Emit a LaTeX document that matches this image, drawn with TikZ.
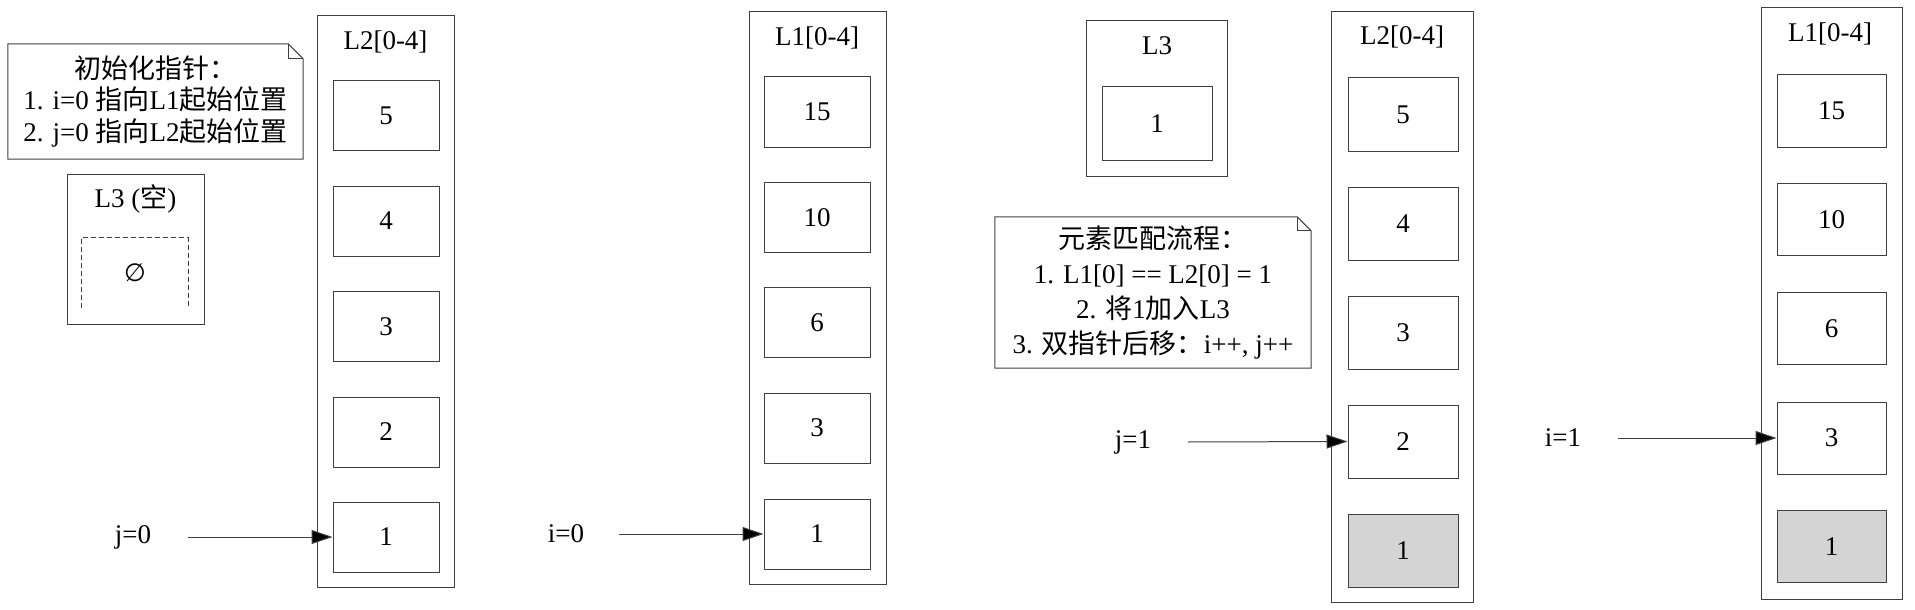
\documentclass[tikz,border=0pt]{standalone}
\usepackage{fontspec}
\setmainfont{Liberation Serif}
\newfontfamily\cjk{Noto Sans CJK SC}
\newfontfamily\dvs{DejaVu Sans}
\usetikzlibrary{arrows.meta}
\begin{document}
\begin{tikzpicture}[x=1pt,y=-1pt,
  every node/.style={font=\fontsize{27}{31}\selectfont, inner sep=0pt},
  edge/.style={draw=black!75, line width=1pt},
  cell/.style n args={2}{edge, rectangle, minimum width=#1, minimum height=#2},
  grey cell/.style={fill=black!17},
  cluster/.style n args={2}{edge, rectangle, minimum width=#1, minimum height=#2},
  lbl/.style={minimum width=110pt, minimum height=30pt},
  ptr/.style={edge, -{Triangle[length=21pt,width=14pt,fill=black]}},
  notetext/.style={align=center, minimum width=#1},
]
\useasboundingbox (0,0) rectangle (1915,610);

% ---------- left: initial state ----------
% note 1
\node[notetext=295pt, minimum height=115pt, font=\fontsize{27}{31.7}\selectfont] (n1) at (155.5,101.5)
  {{\cjk 初始化指针：}\\1. i=0 {\cjk 指向}L1{\cjk 起始位置}\\2. j=0 {\cjk 指向}L2{\cjk 起始位置}};
\draw[edge] (n1.south west) -- (n1.north west) -- ([xshift=-15pt]n1.north east)
  -- ([yshift=-15pt]n1.north east) -- (n1.south east) -- cycle;
\draw[edge] ([xshift=-15pt]n1.north east) -- ([xshift=-15pt,yshift=-15pt]n1.north east)
  -- ([yshift=-15pt]n1.north east);

% L3 empty
\node[cluster={137pt}{150pt}] (L3a) at (135.5,249) {};
\node (L3at) at (135.5,199) {L3 ({\cjk 空})};
\node[minimum width=106pt, minimum height=70pt] (L3ae) at (135,273) {\dvs\fontsize{25}{28}\selectfont ∅};
\draw[edge, line width=0.9pt, dash pattern=on 5pt off 3pt] (L3ae.south west) -- (L3ae.north west)
  -- (L3ae.north east) -- (L3ae.south east);

% L2 left
\node[cluster={137pt}{571pt}] (L2a) at (385.5,301.5) {};
\node (L2at) at (385.5,42) {L2[0-4]};
\node[cell={106pt}{70pt}] (L2a5) at (386,115.5) {5};
\node[cell={106pt}{70pt}] (L2a4) at (386,221) {4};
\node[cell={106pt}{70pt}] (L2a3) at (386,326.5) {3};
\node[cell={106pt}{70pt}] (L2a2) at (386,432) {2};
\node[cell={106pt}{70pt}] (L2a1) at (386,537) {1};
\node[lbl] (j0) at (133,537) {j=0};
\draw[ptr] (j0.east) -- (L2a1.west);

% L1 left
\node[cluster={137pt}{572pt}] (L1a) at (817.5,298) {};
\node (L1at) at (817,38) {L1[0-4]};
\node[cell={106pt}{70pt}] (L1a15) at (817,112) {15};
\node[cell={106pt}{70pt}] (L1a10) at (817,217.5) {10};
\node[cell={106pt}{70pt}] (L1a6) at (817,322.5) {6};
\node[cell={106pt}{70pt}] (L1a3) at (817,428) {3};
\node[cell={106pt}{70pt}] (L1a1) at (817,534) {1};
\node[lbl] (i0) at (566,534) {i=0};
\draw[ptr] ([xshift=-2pt]i0.east) -- (L1a1.west);

% ---------- right: after first match ----------
% L3 with 1
\node[cluster={141pt}{155pt}] (L3b) at (1156.5,98.5) {};
\node (L3bt) at (1157,46) {L3};
\node[cell={110pt}{73pt}] (L3b1) at (1157,123.5) {1};

% note 2
\node[notetext=316pt, minimum height=151pt, font=\fontsize{27}{35}\selectfont] (n2) at (1153,292.5)
  {{\cjk 元素匹配流程：}\\1. L1[0] == L2[0] = 1\\2. {\cjk 将}1{\cjk 加入}L3\\3. {\cjk 双指针后移：}i++, j++};
\draw[edge] (n2.south west) -- (n2.north west) -- ([xshift=-14pt]n2.north east)
  -- ([yshift=-14pt]n2.north east) -- (n2.south east) -- cycle;
\draw[edge] ([xshift=-14pt]n2.north east) -- ([xshift=-14pt,yshift=-14pt]n2.north east)
  -- ([yshift=-14pt]n2.north east);

% L2 right
\node[cluster={142pt}{590pt}] (L2b) at (1402,307) {};
\node (L2bt) at (1402,37) {L2[0-4]};
\node[cell={110pt}{73pt}] (L2b5) at (1403,114.5) {5};
\node[cell={110pt}{73pt}] (L2b4) at (1403,223.5) {4};
\node[cell={110pt}{73pt}] (L2b3) at (1403,332.5) {3};
\node[cell={110pt}{73pt}] (L2b2) at (1403,441.5) {2};
\node[cell={110pt}{73pt}, grey cell] (L2b1) at (1403,550.5) {1};
\node[lbl] (j1) at (1133,442) {j=1};
\draw[ptr] (j1.east) -- (L2b2.west);

% L1 right
\node[cluster={141pt}{591pt}] (L1b) at (1831.5,303.5) {};
\node (L1bt) at (1830,34) {L1[0-4]};
\node[cell={109pt}{72pt}] (L1b15) at (1831.5,111) {15};
\node[cell={109pt}{72pt}] (L1b10) at (1831.5,219.5) {10};
\node[cell={109pt}{72pt}] (L1b6) at (1831.5,328.5) {6};
\node[cell={109pt}{72pt}] (L1b3) at (1831.5,438) {3};
\node[cell={109pt}{72pt}, grey cell] (L1b1) at (1831.5,546.5) {1};
\node[lbl] (i1) at (1563,438) {i=1};
\draw[ptr] (i1.east) -- (L1b3.west);
\end{tikzpicture}
\end{document}
